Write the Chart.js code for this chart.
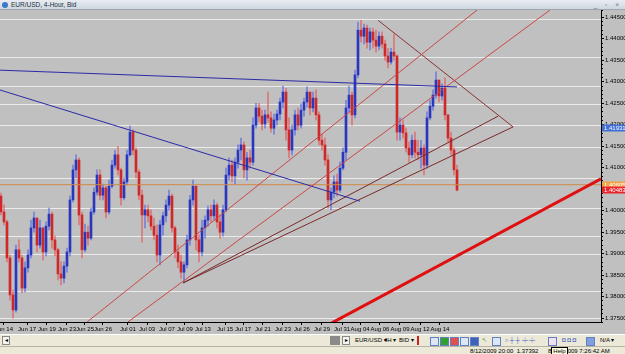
<!DOCTYPE html>
<html>
<head>
<meta charset="utf-8">
<script src="https://cdn.jsdelivr.net/npm/chart.js@4.4.0/dist/chart.umd.min.js"></script>
<style>
  body { margin: 0; width: 625px; height: 354px; overflow: hidden; background: #c0c0c0;
         font-family: 'Liberation Sans', sans-serif; }
  #title { position: absolute; left: 0; top: 0; width: 625px; height: 9px; font-size: 6.5px; line-height: 9px;
           background: linear-gradient(#e9edf2, #cfd6df); border-bottom: 1px solid #9ea6b0; color: #203040; }
  #title .ico { display: inline-block; width: 6px; height: 6px; border-radius: 3px; background: #3a78c8;
                margin: 0 3px 0 2px; vertical-align: -1px; }
  #title .btns { position: absolute; right: 3px; top: 0; color: #777; letter-spacing: 3px; }
  #wrap { position: absolute; left: 0; top: 10px; width: 625px; height: 324px; }
  #toolbar { position: absolute; left: 0; top: 334px; width: 625px; height: 11px; background: #ece9d8;
             border-top: 1px solid #fff; font-size: 6px; line-height: 11px; color: #000; }
  #status { position: absolute; left: 0; top: 346px; width: 625px; height: 8px; background: #ece9d8;
            border-top: 1px solid #b8b4a4; font-size: 6px; line-height: 8px; }
  .tb { position: absolute; top: 1px; height: 9px; line-height: 9px; }
  .btn { border: 1px solid #888; background: #f4f3ee; width: 6px; height: 7px; font-size: 6px; line-height: 7px; text-align: center; }
  .ic { width: 7px; height: 7px; top: 2px; border: 1px solid #6080c0; background: #dde6f6; }
</style>
</head>
<body>
<div id="title"><span class="ico"></span>EUR/USD, 4-Hour, Bid<span class="btns">_ ▫ ×</span></div>
<div id="wrap"><canvas id="myChart" width="625" height="324"></canvas></div>
<div id="toolbar">
  <div class="tb btn" style="left:2px">◂</div>
  <div class="tb" style="left:330px;width:10px;background:#8a8a8a"></div>
  <div class="tb btn" style="left:342px">▸</div>
  <div class="tb" style="left:355px">EUR/USD ▾</div>
  <div class="tb" style="left:384px">4H ▾</div>
  <div class="tb" style="left:399px">BID ▾</div>
  <div class="tb" style="left:417px;width:2px;background:#d02020"></div>
  <div class="tb ic" style="left:430px"></div>
  <div class="tb ic" style="left:440px;background:#30a030"></div>
  <div class="tb ic" style="left:450px;background:#e05050"></div>
  <div class="tb ic" style="left:460px"></div>
  <div class="tb ic" style="left:470px;background:#4060c0"></div>
  <div class="tb" style="left:482px;color:#30a030">↖</div>
  <div class="tb ic" style="left:492px"></div>
  <div class="tb" style="left:505px;color:#4060c0">⌕ ┼ ┼ ┿ ┿</div>
  <div class="tb ic" style="left:548px;background:#f0e0f0"></div>
  <div class="tb" style="left:562px;color:#3050c0">◘ ◘ ◘</div>
  <div class="tb ic" style="left:586px;background:#80a0e0"></div>
  <div class="tb" style="left:600px">N/A ▾</div>
</div>
<div id="status">
  <span style="position:absolute;left:470px">8/12/2009 20:00&nbsp;&nbsp;1.37392</span>
  <span style="position:absolute;left:548px">8<span style="border:1px solid #000;background:#ffffe1;padding:0 1px">Help</span>009 7:26:42 AM</span>
</div>
<script>
// candles, one per 4-hour bar, Jun 14 - Aug 14 2009
const opens = [1.4034,1.3997,1.3974,1.3890,1.3804,1.3769,1.3909,1.3890,1.3820,1.3867,1.3897,1.3960,1.3983,1.3920,1.3960,1.3904,1.3964,1.3992,1.3932,1.3909,
  1.3853,1.3843,1.3871,1.3904,1.4025,1.4095,1.4118,1.3990,1.3909,1.3950,1.3936,1.3997,1.4043,1.4083,1.4036,1.4053,1.3997,1.4057,1.4106,1.4130,
  1.4095,1.4030,1.4067,1.4130,1.4183,1.4141,1.4090,1.4036,1.3990,1.4002,1.3988,1.3964,1.3943,1.3897,1.3967,1.3988,1.4013,1.4034,1.3960,1.3904,
  1.3881,1.3857,1.3874,1.3932,1.4025,1.4057,1.3932,1.3904,1.3960,1.3978,1.4002,1.3988,1.4013,1.3974,1.3950,1.4002,1.4083,1.4106,1.4081,1.4113,
  1.4141,1.4153,1.4095,1.4123,1.4113,1.4199,1.4239,1.4220,1.4202,1.4223,1.4216,1.4192,1.4211,1.4225,1.4253,1.4276,1.4188,1.4141,1.4188,1.4223,
  1.4199,1.4234,1.4253,1.4276,1.4239,1.4262,1.4223,1.4164,1.4153,1.4118,1.4025,1.4043,1.4067,1.4048,1.4099,1.4136,1.4239,1.4269,1.4223,1.4316,
  1.4420,1.4406,1.4425,1.4392,1.4416,1.4397,1.4383,1.4406,1.4388,1.4360,1.4346,1.4369,1.4360,1.4183,1.4199,1.4181,1.4146,1.4130,1.4164,1.4136,
  1.4130,1.4146,1.4106,1.4216,1.4243,1.4269,1.4304,1.4267,1.4285,1.4223,1.4169,1.4141,1.4095];
const highs = [1.4041,1.4013,1.3978,1.3897,1.3815,1.3920,1.3932,1.3897,1.3881,1.3909,1.3978,1.3997,1.3983,1.3978,1.3960,1.3974,1.4006,1.3997,1.3941,1.3913,
  1.3881,1.3881,1.3913,1.4034,1.4106,1.4130,1.4123,1.3997,1.3969,1.3964,1.4006,1.4053,1.4095,1.4095,1.4062,1.4057,1.4071,1.4118,1.4141,1.4150,
  1.4099,1.4076,1.4141,1.4197,1.4188,1.4146,1.4095,1.4048,1.4013,1.4013,1.4002,1.3983,1.3967,1.3978,1.3997,1.4025,1.4048,1.4039,1.3964,1.3920,
  1.3897,1.3881,1.3943,1.4036,1.4071,1.4057,1.3943,1.3978,1.3988,1.4011,1.4013,1.4025,1.4018,1.3990,1.4013,1.4099,1.4123,1.4118,1.4123,1.4153,
  1.4169,1.4160,1.4136,1.4141,1.4216,1.4250,1.4250,1.4234,1.4234,1.4276,1.4230,1.4225,1.4234,1.4262,1.4290,1.4285,1.4216,1.4199,1.4234,1.4239,
  1.4248,1.4262,1.4288,1.4276,1.4276,1.4281,1.4230,1.4178,1.4169,1.4130,1.4053,1.4081,1.4085,1.4113,1.4146,1.4257,1.4290,1.4276,1.4327,1.4439,
  1.4443,1.4434,1.4432,1.4425,1.4425,1.4420,1.4416,1.4416,1.4397,1.4378,1.4378,1.4411,1.4362,1.4216,1.4211,1.4192,1.4160,1.4176,1.4183,1.4164,
  1.4164,1.4153,1.4230,1.4257,1.4281,1.4323,1.4304,1.4295,1.4309,1.4223,1.4183,1.4146,1.4106];
const lows = [1.3990,1.3967,1.3881,1.3792,1.3750,1.3764,1.3881,1.3809,1.3811,1.3857,1.3890,1.3950,1.3904,1.3913,1.3885,1.3895,1.3955,1.3913,1.3895,1.3839,
  1.3827,1.3832,1.3857,1.3895,1.4020,1.4076,1.3967,1.3890,1.3904,1.3920,1.3932,1.3992,1.4036,1.4025,1.4025,1.3983,1.3992,1.4053,1.4099,1.4083,
  1.4013,1.4025,1.4060,1.4127,1.4130,1.4076,1.4025,1.3927,1.3960,1.3974,1.3955,1.3932,1.3881,1.3874,1.3943,1.3974,1.4002,1.3950,1.3890,1.3867,
  1.3843,1.3832,1.3867,1.3920,1.4013,1.3909,1.3881,1.3895,1.3936,1.3964,1.3974,1.3978,1.3960,1.3936,1.3941,1.3997,1.4071,1.4067,1.4062,1.4099,
  1.4118,1.4076,1.4071,1.4099,1.4106,1.4192,1.4206,1.4188,1.4192,1.4206,1.4183,1.4178,1.4199,1.4211,1.4239,1.4164,1.4123,1.4130,1.4176,1.4188,
  1.4192,1.4220,1.4241,1.4223,1.4230,1.4211,1.4153,1.4141,1.4106,1.4006,1.4002,1.4030,1.4034,1.4043,1.4095,1.4118,1.4230,1.4199,1.4216,1.4309,
  1.4392,1.4388,1.4378,1.4374,1.4378,1.4369,1.4374,1.4378,1.4350,1.4332,1.4341,1.4350,1.4164,1.4164,1.4169,1.4136,1.4113,1.4123,1.4123,1.4118,
  1.4099,1.4083,1.4099,1.4211,1.4234,1.4262,1.4253,1.4257,1.4211,1.4160,1.4130,1.4083,1.4046];
const closes = [1.3997,1.3974,1.3890,1.3804,1.3769,1.3909,1.3890,1.3820,1.3867,1.3897,1.3960,1.3983,1.3920,1.3960,1.3904,1.3964,1.3992,1.3932,1.3909,1.3853,
  1.3843,1.3871,1.3904,1.4025,1.4095,1.4118,1.3990,1.3909,1.3950,1.3936,1.3997,1.4043,1.4083,1.4036,1.4053,1.3997,1.4057,1.4106,1.4130,1.4095,
  1.4030,1.4067,1.4130,1.4183,1.4141,1.4090,1.4036,1.3990,1.4002,1.3988,1.3964,1.3943,1.3897,1.3967,1.3988,1.4013,1.4034,1.3960,1.3904,1.3881,
  1.3857,1.3874,1.3932,1.4025,1.4057,1.3932,1.3904,1.3960,1.3978,1.4002,1.3988,1.4013,1.3974,1.3950,1.4002,1.4083,1.4106,1.4081,1.4113,1.4141,
  1.4153,1.4095,1.4123,1.4113,1.4199,1.4239,1.4220,1.4202,1.4223,1.4216,1.4192,1.4211,1.4225,1.4253,1.4276,1.4188,1.4141,1.4188,1.4223,1.4199,
  1.4234,1.4253,1.4276,1.4239,1.4262,1.4223,1.4164,1.4153,1.4118,1.4025,1.4043,1.4067,1.4048,1.4099,1.4136,1.4239,1.4269,1.4223,1.4316,1.4420,
  1.4406,1.4425,1.4392,1.4416,1.4397,1.4383,1.4406,1.4388,1.4360,1.4346,1.4369,1.4360,1.4183,1.4199,1.4181,1.4146,1.4130,1.4164,1.4136,1.4130,
  1.4146,1.4106,1.4216,1.4243,1.4269,1.4304,1.4267,1.4285,1.4223,1.4169,1.4141,1.4095,1.4048];

// time axis labels and the bar position they sit at
const dateLabels = ['Jun 14','Jun 17','Jun 19','Jun 23','Jun 25','Jun 26','Jul 01','Jul 03','Jul 07','Jul 09','Jul 13','Jul 15',
  'Jul 17','Jul 21','Jul 23','Jul 26','Jul 29','Jul 31','Aug 04','Aug 06','Aug 09','Aug 12','Aug 14'];
const dateTickPos = [1, 8.7, 15.3, 22, 28, 34, 42.3, 48.7, 55.3, 61.3, 67.3, 74.7, 80.7, 87.3, 94, 100.3, 107, 113.7, 119.7, 126.3, 133, 139.7, 146.3];

// price axis labels and horizontal grid levels
const priceTicks = [1.375,1.38,1.385,1.39,1.395,1.40,1.405,1.41,1.415,1.42,1.425,1.43,1.435,1.44,1.445];
const gridLevels = [1.4446,1.4357,1.4288,1.4248,1.4199,1.4146,1.4076,1.4006,1.3939,1.3897,1.3811,1.3750];

// marked prices on the axis
const markValues = [1.41931, 1.40605, 1.40483];
const markColors = ['#3f6fd6', '#f2a445', '#e8242a'];

// drawn trend lines: [bar, price] pairs
const blueFlat = [[-0.4, 1.4327], [152, 1.4288]];
const blueDown = [[-0.4, 1.4281], [119.7, 1.4022]];
const redThinA = [[28.7, 1.3741], [158.7, 1.4467]];
const redThinB = [[42.3, 1.3741], [183, 1.4467]];
const wedgeUp1 = [[60.7, 1.3832], [165.7, 1.4220]];
const wedgeUp2 = [[60.7, 1.3832], [170.7, 1.4195]];
const wedgeDown = [[125.7, 1.4443], [170.7, 1.4195]];
const redThick = [[110.3, 1.3739], [200, 1.4074]];
const orangeLevel = [[-0.4, 1.40605], [200, 1.40605]];

const FONT = "'Liberation Sans', sans-serif";
const BULL = '#2836c0', BEAR = '#d02828';
const BULL_WICK = 'rgba(90,110,225,0.75)', BEAR_WICK = 'rgba(225,95,95,0.75)';

function isBull(i) { return closes[i] >= opens[i]; }
function linePts(arr) { return arr.map(p => ({ x: p[0], y: p[1] })); }
function lineSet(arr, color, width) {
  return { type: 'line', data: linePts(arr), borderColor: color, borderWidth: width, pointRadius: 0, order: 0, fill: false };
}

const bgPlugin = {
  id: 'bg',
  beforeDraw(chart) {
    const c = chart.ctx;
    c.save();
    c.fillStyle = '#c0c0c0';
    c.fillRect(0, 0, chart.width, chart.height);
    c.restore();
  }
};

const markPlugin = {
  id: 'marks',
  afterDraw(chart) {
    const s = chart.scales.y, c = chart.ctx;
    c.save();
    c.font = '6px ' + FONT;
    c.textBaseline = 'middle';
    markValues.forEach((v, i) => {
      const py = Math.round(s.getPixelForValue(v));
      c.fillStyle = markColors[i];
      c.fillRect(s.left + 1, py - 3.5, 24, 7);
      c.fillStyle = '#ffffff';
      c.fillText(v.toFixed(5), s.left + 3, py + 0.5);
    });
    c.restore();
  }
};

const ctx = document.getElementById('myChart').getContext('2d');
const myChart = new Chart(ctx, {
  data: {
    datasets: [
      lineSet(blueFlat, '#2a2aa8', 1),
      lineSet(blueDown, '#2a2aa8', 1),
      lineSet(redThinA, '#c84848', 1),
      lineSet(redThinB, '#c84848', 1),
      lineSet(wedgeUp1, '#7a2a2a', 1),
      lineSet(wedgeUp2, '#7a2a2a', 1),
      lineSet(wedgeDown, '#8a3434', 1),
      lineSet(redThick, '#e01010', 3),
      lineSet(orangeLevel, '#d08848', 1),
      {
        type: 'bar', order: 2, grouped: false, barThickness: 1,
        data: highs.map((h, i) => ({ x: i, y: [lows[i], h] })),
        backgroundColor: c => isBull(c.dataIndex) ? BULL_WICK : BEAR_WICK
      },
      {
        type: 'bar', order: 1, grouped: false, barThickness: 2, minBarLength: 1,
        data: opens.map((o, i) => ({ x: i, y: [o, closes[i]] })),
        backgroundColor: c => isBull(c.dataIndex) ? BULL : BEAR
      }
    ]
  },
  options: {
    responsive: false,
    animation: false,
    layout: { padding: 0, autoPadding: false },
    plugins: { legend: { display: false }, tooltip: { enabled: false } },
    scales: {
      x: {
        type: 'linear', min: -0.33, max: 200, offset: false,
        afterBuildTicks: s => { s.ticks = dateTickPos.map(v => ({ value: v })); },
        afterFit: s => { s.height = 12; s.paddingLeft = 0; s.paddingRight = 0; },
        ticks: { autoSkip: false, maxRotation: 0, padding: 1, color: '#000',
                 font: { family: FONT, size: 6 },
                 callback: (v, i) => dateLabels[i] },
        grid: { drawOnChartArea: false, offset: false, tickLength: 3, color: '#000' },
        border: { color: '#000' }
      },
      yGrid: {
        position: 'left', min: 1.3741, max: 1.4467,
        afterBuildTicks: s => { s.ticks = gridLevels.map(v => ({ value: v })); },
        afterFit: s => { s.width = 0; },
        ticks: { display: false },
        grid: { color: 'rgba(240,240,240,0.9)', drawTicks: false },
        border: { display: false }
      },
      yMinor: {
        position: 'right', weight: 0, min: 1.3741, max: 1.4467,
        afterFit: s => { s.width = 0; },
        ticks: { display: false, stepSize: 0.001 },
        grid: { drawOnChartArea: false, tickLength: 2, color: '#000' },
        border: { display: false }
      },
      y: {
        position: 'right', weight: 1, min: 1.3741, max: 1.4467,
        afterBuildTicks: s => { s.ticks = priceTicks.map(v => ({ value: v })); },
        afterFit: s => { s.width = 24; s.paddingTop = 0; s.paddingBottom = 0; },
        ticks: { padding: 1, color: '#000', font: { family: FONT, size: 6 },
                 callback: v => v.toFixed(5) },
        grid: { drawOnChartArea: false, tickLength: 3, color: '#000' },
        border: { color: '#000' }
      }
    }
  },
  plugins: [bgPlugin, markPlugin]
});
</script>
</body>
</html>
